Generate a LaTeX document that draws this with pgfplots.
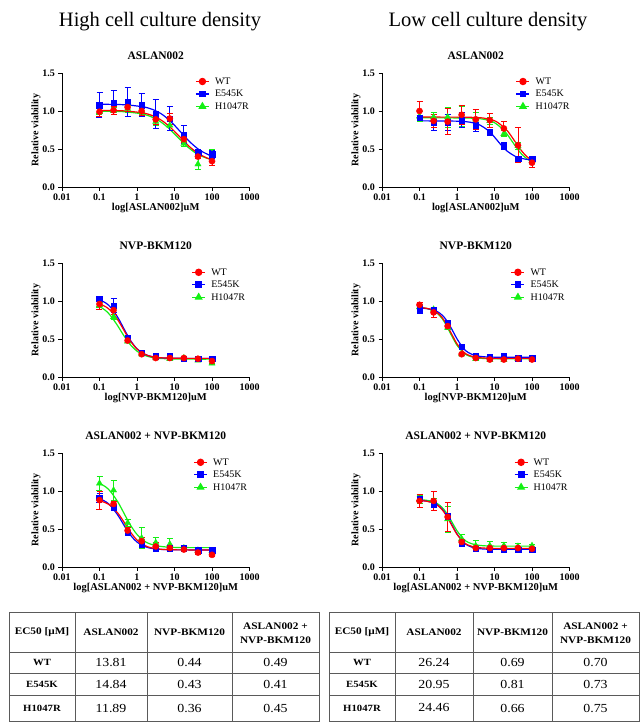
\documentclass[border=0pt]{standalone}
\usepackage{fontspec}
\setmainfont{Liberation Serif}
\newfontfamily\tabfont{Liberation Serif}[FakeStretch=1.13]
\usepackage{pgfplots}
\pgfplotsset{compat=1.18}
\definecolor{cR}{RGB}{255,0,0}
\definecolor{cB}{RGB}{0,0,255}
\definecolor{cG}{RGB}{20,240,20}
\pgfplotsset{
  cv/.style={line width=1.2pt, smooth, forget plot, no marks},
  pts/.style={only marks, forget plot, error bars/y dir=both, error bars/y explicit,
    error bars/error bar style={line width=0.8pt, solid},
    error bars/error mark options={rotate=90, mark size=3pt, line width=0.8pt}},
  mR/.style={cR, mark=*, mark size=3.1pt},
  mB/.style={cB, mark=square*, mark size=2.8pt},
  mG/.style={cG, mark=triangle*, mark size=3.6pt},
}
\newcommand\DR[1]{\begin{axis}[xmode=log, xmin=0.01, xmax=1000, ymin=0, ymax=1.5,
    scale only axis, width=187.5pt, height=114pt, anchor=south west,
    axis lines*=left,
    xtick={0.01,0.1,1,10,100,1000}, xticklabels={0.01,0.1,1,10,100,1000},
    ytick={0,0.5,1,1.5}, yticklabels={0.0,0.5,1.0,1.5},
    xminorticks=false, yminorticks=false, tick align=outside, major tick length=3.5pt,
    every tick/.style={black,line width=0.8pt}, axis line style={black,line width=0.8pt},
    tick label style={font=\fontsize{10}{12}\selectfont\bfseries},
    every axis title shift=0pt,
    title style={font=\fontsize{11.5}{13}\selectfont\bfseries, at={(axis description cs:0.5,1.15)}, anchor=center},
    xlabel style={font=\fontsize{10.5}{12}\selectfont\bfseries, at={(axis description cs:0.5,-0.18)}, anchor=center},
    ylabel style={font=\fontsize{10}{12}\selectfont\bfseries, at={(axis description cs:-0.139,0.5)}, anchor=center},
    ylabel={Relative viability},
    legend cell align=left,
    legend image code/.code={\draw[mark repeat=2,mark phase=2] plot coordinates {(0pt,0pt) (6.5pt,0pt) (13pt,0pt)}; \path (16pt,0pt);},
    legend style={draw=none, fill=none, anchor=north west, inner sep=0pt,
      font=\fontsize{10}{12}\selectfont, row sep=0pt,
      nodes={inner xsep=2.5pt, inner ysep=1pt, text height=8pt, text depth=2.5pt}},
    #1]}
\newcommand\leg{%
  \addlegendimage{mR, line width=1.2pt}\addlegendentry{WT}
  \addlegendimage{mB, line width=1.2pt}\addlegendentry{E545K}
  \addlegendimage{mG, line width=1.2pt}\addlegendentry{H1047R}}
\begin{document}
\begin{tikzpicture}
\useasboundingbox (0pt,0pt) rectangle (641pt,-722pt);
\node[font=\fontsize{20.5}{24}\selectfont, anchor=base] at (160pt,-27pt) {High cell culture density};
\node[font=\fontsize{20.5}{24}\selectfont, anchor=base] at (488pt,-27pt) {Low cell culture density};

% ---------- Plot 1: High, ASLAN002
\DR{at={(62pt,-187pt)}, title={ASLAN002}, xlabel={log[ASLAN002]uM}, legend style={at={(0.71,0.982)}}}
\leg
\addplot[cG, cv] coordinates {(0.1,0.998) (0.376,0.993) (1.189,0.967) (2.114,0.935) (3.760,0.876) (6.686,0.782) (11.89,0.66) (21.14,0.538) (37.60,0.444) (66.86,0.385) (100,0.36)};
\addplot[cB, cv] coordinates {(0.1,1.089) (0.469,1.082) (1.484,1.054) (2.639,1.019) (4.693,0.955) (8.345,0.852) (14.84,0.72) (26.39,0.588) (46.93,0.485) (83.45,0.421) (100,0.407)};
\addplot[cR, cv] coordinates {(0.1,1.009) (0.437,1.002) (1.381,0.976) (2.456,0.943) (4.367,0.882) (7.766,0.785) (13.81,0.66) (24.56,0.535) (43.67,0.438) (77.66,0.377) (100,0.36)};
\addplot[mG, pts] coordinates {(0.1,0.99)+-(0,0.04) (0.237,1.00)+-(0,0.05) (0.562,1.03)+-(0,0.05) (1.33,1.00)+-(0,0.04) (3.16,0.86)+-(0,0.05) (7.5,0.81)+-(0,0.06) (17.8,0.57)+-(0,0.03) (42.2,0.30)+-(0,0.07) (100,0.44)+-(0,0.06)};
\addplot[mB, pts] coordinates {(0.1,1.08)+-(0,0.16) (0.237,1.11)+-(0,0.16) (0.562,1.12)+-(0,0.19) (1.33,1.08)+-(0,0.15) (3.16,0.96)+-(0,0.19) (7.5,0.90)+-(0,0.16) (17.8,0.69)+-(0,0.12) (42.2,0.45)+-(0,0.04) (100,0.43)+-(0,0.05)};
\addplot[mR, pts] coordinates {(0.1,0.99)+-(0,0.06) (0.237,1.01)+-(0,0.05) (0.562,1.05)+-(0,0.06) (1.33,1.00)+-(0,0.06) (3.16,0.89)+-(0,0.06) (7.5,0.90)+-(0,0.07) (17.8,0.63)+-(0,0.04) (42.2,0.40)+-(0,0.03) (100,0.34)+-(0,0.05)};
\end{axis}

% ---------- Plot 2: Low, ASLAN002
\DR{at={(382pt,-187pt)}, title={ASLAN002}, xlabel={log[ASLAN002]uM}, legend style={at={(0.713,0.982)}}}
\leg
\addplot[cG, cv] coordinates {(0.1,0.91) (0.949,0.909) (3.0,0.904) (5.335,0.890) (9.487,0.853) (16.87,0.759) (22.5,0.683) (30,0.595) (40,0.507) (53.35,0.431) (75,0.367) (100,0.332)};
\addplot[cB, cv] coordinates {(0.1,0.87) (0.379,0.869) (1.2,0.865) (2.134,0.854) (3.795,0.823) (6.748,0.745) (9.0,0.683) (12,0.61) (16,0.537) (21.34,0.475) (37.95,0.397) (67.48,0.366) (100,0.357)};
\addplot[cR, cv] coordinates {(0.1,0.92) (1.107,0.919) (3.5,0.914) (6.224,0.900) (11.07,0.862) (19.68,0.766) (26.24,0.690) (35,0.60) (46.67,0.510) (62.24,0.434) (80,0.383) (100,0.350)};
\addplot[mG, pts] coordinates {(0.1,0.93)+-(0,0.07) (0.237,0.92)+-(0,0.06) (0.562,0.92)+-(0,0.13) (1.33,0.93)+-(0,0.13) (3.16,0.89)+-(0,0.09) (7.5,0.87)+-(0,0.04) (17.8,0.70)+-(0,0.04) (42.2,0.54)+-(0,0.05) (100,0.35)+-(0,0.04)};
\addplot[mB, pts] coordinates {(0.1,0.91)+-(0,0.03) (0.237,0.85)+-(0,0.11) (0.562,0.85)+-(0,0.10) (1.33,0.88)+-(0,0.10) (3.16,0.81)+-(0,0.08) (7.5,0.72)+-(0,0.02) (17.8,0.54)+-(0,0.05) (42.2,0.37)+-(0,0.03) (100,0.37)+-(0,0.03)};
\addplot[mR, pts] coordinates {(0.1,1.00)+-(0,0.12) (0.237,0.87)+-(0,0.08) (0.562,0.86)+-(0,0.17) (1.33,0.95)+-(0,0.13) (3.16,0.89)+-(0,0.13) (7.5,0.88)+-(0,0.09) (17.8,0.77)+-(0,0.09) (42.2,0.55)+-(0,0.23) (100,0.32)+-(0,0.06)};
\end{axis}

% ---------- Plot 3: High, NVP-BKM120
\DR{at={(62pt,-377pt)}, title={NVP-BKM120}, xlabel={log[NVP-BKM120]uM}, legend style={at={(0.69,0.975)}}}
\leg
\addplot[cG, cv] coordinates {(0.1,0.930) (0.15,0.869) (0.2,0.803) (0.3,0.680) (0.4,0.581) (0.5,0.507) (0.7,0.412) (1,0.340) (1.5,0.289) (2,0.269) (3,0.251) (5,0.242) (10,0.237) (30,0.235) (100,0.235)};
\addplot[cB, cv] coordinates {(0.1,1.018) (0.15,0.971) (0.2,0.915) (0.3,0.793) (0.4,0.682) (0.5,0.591) (0.7,0.468) (1,0.372) (1.5,0.307) (2,0.281) (3,0.261) (5,0.251) (10,0.247) (30,0.245) (100,0.245)};
\addplot[cR, cv] coordinates {(0.1,0.963) (0.15,0.921) (0.2,0.871) (0.3,0.760) (0.4,0.658) (0.5,0.574) (0.7,0.459) (1,0.367) (1.5,0.305) (2,0.280) (3,0.261) (5,0.251) (10,0.247) (30,0.245) (100,0.245)};
\addplot[mG, pts] coordinates {(0.1,0.95)+-(0,0.03) (0.237,0.79)+-(0,0.03) (0.562,0.47)+-(0,0.02) (1.33,0.30)+-(0,0.02) (3.16,0.25)+-(0,0.02) (7.5,0.24)+-(0,0.02) (17.8,0.25)+-(0,0.02) (42.2,0.22)+-(0,0.02) (100,0.18)+-(0,0.02)};
\addplot[mB, pts] coordinates {(0.1,1.03)+-(0,0.02) (0.237,0.94)+-(0,0.09) (0.562,0.51)+-(0,0.03) (1.33,0.32)+-(0,0.02) (3.16,0.27)+-(0,0.02) (7.5,0.27)+-(0,0.02) (17.8,0.24)+-(0,0.02) (42.2,0.24)+-(0,0.02) (100,0.24)+-(0,0.02)};
\addplot[mR, pts] coordinates {(0.1,0.96)+-(0,0.07) (0.237,0.88)+-(0,0.05) (0.562,0.48)+-(0,0.03) (1.33,0.30)+-(0,0.02) (3.16,0.25)+-(0,0.02) (7.5,0.25)+-(0,0.02) (17.8,0.25)+-(0,0.02) (42.2,0.24)+-(0,0.02) (100,0.21)+-(0,0.03)};
\end{axis}

% ---------- Plot 4: Low, NVP-BKM120
\DR{at={(382pt,-377pt)}, title={NVP-BKM120}, xlabel={log[NVP-BKM120]uM}, legend style={at={(0.686,0.975)}}}
\leg
\addplot[cG, cv] coordinates {(0.1,0.914) (0.15,0.904) (0.2,0.887) (0.3,0.837) (0.4,0.769) (0.5,0.694) (0.7,0.555) (1,0.418) (1.5,0.318) (2,0.280) (3,0.255) (5,0.244) (10,0.24) (30,0.24) (100,0.24)};
\addplot[cB, cv] coordinates {(0.1,0.907) (0.15,0.901) (0.2,0.891) (0.3,0.860) (0.4,0.815) (0.5,0.760) (0.7,0.644) (1,0.502) (1.5,0.375) (2,0.322) (3,0.284) (5,0.267) (10,0.261) (30,0.26) (100,0.26)};
\addplot[cR, cv] coordinates {(0.1,0.915) (0.15,0.905) (0.2,0.891) (0.3,0.845) (0.4,0.783) (0.5,0.711) (0.7,0.577) (1,0.436) (1.5,0.329) (2,0.289) (3,0.262) (5,0.250) (10,0.245) (30,0.245) (100,0.245)};
\addplot[mG, pts] coordinates {(0.1,0.92)+-(0,0.03) (0.237,0.89)+-(0,0.02) (0.562,0.65)+-(0,0.03) (1.33,0.30)+-(0,0.02) (3.16,0.24)+-(0,0.02) (7.5,0.23)+-(0,0.02) (17.8,0.23)+-(0,0.02) (42.2,0.24)+-(0,0.02) (100,0.24)+-(0,0.02)};
\addplot[mB, pts] coordinates {(0.1,0.89)+-(0,0.05) (0.237,0.88)+-(0,0.03) (0.562,0.71)+-(0,0.02) (1.33,0.40)+-(0,0.02) (3.16,0.27)+-(0,0.02) (7.5,0.26)+-(0,0.02) (17.8,0.27)+-(0,0.02) (42.2,0.25)+-(0,0.02) (100,0.25)+-(0,0.02)};
\addplot[mR, pts] coordinates {(0.1,0.95)+-(0,0.03) (0.237,0.85)+-(0,0.07) (0.562,0.67)+-(0,0.03) (1.33,0.30)+-(0,0.02) (3.16,0.25)+-(0,0.02) (7.5,0.23)+-(0,0.02) (17.8,0.23)+-(0,0.02) (42.2,0.24)+-(0,0.02) (100,0.23)+-(0,0.02)};
\end{axis}

% ---------- Plot 5: High, combination
\DR{at={(62pt,-567pt)}, title={ASLAN002 + NVP-BKM120}, xlabel={log[ASLAN002 + NVP-BKM120]uM}, legend style={at={(0.70,0.975)}}}
\leg
\addplot[cG, cv] coordinates {(0.1,1.103) (0.15,1.050) (0.2,0.989) (0.3,0.866) (0.4,0.755) (0.5,0.664) (0.7,0.536) (1,0.429) (1.5,0.348) (2,0.313) (3,0.284) (5,0.267) (10,0.258) (30,0.255) (100,0.255)};
\addplot[cB, cv] coordinates {(0.1,0.900) (0.15,0.856) (0.2,0.803) (0.3,0.691) (0.4,0.592) (0.5,0.512) (0.7,0.408) (1,0.328) (1.5,0.275) (2,0.254) (3,0.238) (5,0.230) (10,0.226) (30,0.225) (100,0.225)};
\addplot[cR, cv] coordinates {(0.1,0.873) (0.15,0.842) (0.2,0.804) (0.3,0.716) (0.4,0.630) (0.5,0.556) (0.7,0.447) (1,0.355) (1.5,0.290) (2,0.263) (3,0.243) (5,0.231) (10,0.226) (30,0.225) (100,0.225)};
\addplot[mG, pts] coordinates {(0.1,1.10)+-(0,0.09) (0.237,1.01)+-(0,0.13) (0.562,0.58)+-(0,0.04) (1.33,0.38)+-(0,0.14) (3.16,0.32)+-(0,0.07) (7.5,0.30)+-(0,0.07) (17.8,0.25)+-(0,0.03) (42.2,0.22)+-(0,0.02) (100,0.21)+-(0,0.02)};
\addplot[mB, pts] coordinates {(0.1,0.91)+-(0,0.06) (0.237,0.79)+-(0,0.02) (0.562,0.45)+-(0,0.03) (1.33,0.30)+-(0,0.02) (3.16,0.25)+-(0,0.02) (7.5,0.25)+-(0,0.02) (17.8,0.25)+-(0,0.03) (42.2,0.22)+-(0,0.02) (100,0.22)+-(0,0.02)};
\addplot[mR, pts] coordinates {(0.1,0.88)+-(0,0.12) (0.237,0.83)+-(0,0.03) (0.562,0.48)+-(0,0.04) (1.33,0.34)+-(0,0.05) (3.16,0.27)+-(0,0.06) (7.5,0.25)+-(0,0.03) (17.8,0.23)+-(0,0.03) (42.2,0.19)+-(0,0.02) (100,0.16)+-(0,0.02)};
\end{axis}

% ---------- Plot 6: Low, combination
\DR{at={(382pt,-567pt)}, title={ASLAN002 + NVP-BKM120}, xlabel={log[ASLAN002 + NVP-BKM120]uM}, legend style={at={(0.703,0.975)}}}
\leg
\addplot[cG, cv] coordinates {(0.1,0.886) (0.15,0.879) (0.2,0.868) (0.3,0.833) (0.4,0.784) (0.5,0.726) (0.7,0.609) (1,0.477) (1.5,0.367) (2,0.324) (3,0.294) (5,0.280) (10,0.275) (30,0.275) (100,0.275)};
\addplot[cB, cv] coordinates {(0.1,0.876) (0.15,0.868) (0.2,0.855) (0.3,0.817) (0.4,0.762) (0.5,0.699) (0.7,0.573) (1,0.435) (1.5,0.324) (2,0.280) (3,0.250) (5,0.237) (10,0.232) (30,0.232) (100,0.232)};
\addplot[cR, cv] coordinates {(0.1,0.875) (0.15,0.867) (0.2,0.853) (0.3,0.812) (0.4,0.754) (0.5,0.689) (0.7,0.5625) (1,0.430) (1.5,0.327) (2,0.288) (3,0.261) (5,0.250) (10,0.245) (30,0.245) (100,0.245)};
\addplot[mG, pts] coordinates {(0.1,0.89)+-(0,0.05) (0.237,0.87)+-(0,0.03) (0.562,0.63)+-(0,0.17) (1.33,0.37)+-(0,0.06) (3.16,0.28)+-(0,0.07) (7.5,0.28)+-(0,0.06) (17.8,0.28)+-(0,0.05) (42.2,0.27)+-(0,0.04) (100,0.28)+-(0,0.02)};
\addplot[mB, pts] coordinates {(0.1,0.90)+-(0,0.03) (0.237,0.82)+-(0,0.04) (0.562,0.67)+-(0,0.03) (1.33,0.31)+-(0,0.02) (3.16,0.24)+-(0,0.02) (7.5,0.23)+-(0,0.02) (17.8,0.23)+-(0,0.02) (42.2,0.23)+-(0,0.02) (100,0.23)+-(0,0.02)};
\addplot[mR, pts] coordinates {(0.1,0.87)+-(0,0.09) (0.237,0.87)+-(0,0.12) (0.562,0.66)+-(0,0.19) (1.33,0.33)+-(0,0.03) (3.16,0.25)+-(0,0.02) (7.5,0.25)+-(0,0.02) (17.8,0.25)+-(0,0.02) (42.2,0.25)+-(0,0.02) (100,0.24)+-(0,0.02)};
\end{axis}

% ---------- Tables
\begin{scope}[line width=0.8pt, draw={rgb,255:red,90;green,90;blue,90}]
  \draw (9pt,-612pt) rectangle (319pt,-721pt);
  \foreach \yy in {652,673,695} \draw (9pt,-\yy pt) -- (319pt,-\yy pt);
  \foreach \xx in {75,147,232} \draw (\xx pt,-612pt) -- (\xx pt,-721pt);
  \draw (329pt,-612pt) rectangle (639pt,-721pt);
  \foreach \yy in {652,673,695} \draw (329pt,-\yy pt) -- (639pt,-\yy pt);
  \foreach \xx in {395,473,552} \draw (\xx pt,-612pt) -- (\xx pt,-721pt);
\end{scope}
\tikzset{th/.style={font=\tabfont\fontsize{10}{12}\selectfont\bfseries, align=center, inner sep=0pt},
         tr/.style={font=\tabfont\fontsize{9.5}{11}\selectfont\bfseries, inner sep=0pt},
         tn/.style={font=\tabfont\fontsize{12.3}{14}\selectfont, inner sep=0pt}}
\node[th] at (42pt,-632pt) {EC50 [μM]};
\node[th] at (111pt,-632pt) {ASLAN002};
\node[th] at (189.5pt,-632pt) {NVP-BKM120};
\node[th, font=\tabfont\fontsize{10}{14}\selectfont\bfseries] at (275.5pt,-633pt) {ASLAN002 +\\NVP-BKM120};
\node[tr] at (42pt,-662.5pt) {WT};
\node[tr] at (42pt,-684pt) {E545K};
\node[tr] at (42pt,-708pt) {H1047R};
\node[tn] at (111pt,-662.5pt) {13.81};
\node[tn] at (111pt,-684pt) {14.84};
\node[tn] at (111pt,-708pt) {11.89};
\node[tn] at (189.5pt,-662.5pt) {0.44};
\node[tn] at (189.5pt,-684pt) {0.43};
\node[tn] at (189.5pt,-708pt) {0.36};
\node[tn] at (275.5pt,-662.5pt) {0.49};
\node[tn] at (275.5pt,-684pt) {0.41};
\node[tn] at (275.5pt,-708pt) {0.45};
\node[th] at (362pt,-632pt) {EC50 [μM]};
\node[th] at (434pt,-632pt) {ASLAN002};
\node[th] at (512.5pt,-632pt) {NVP-BKM120};
\node[th, font=\tabfont\fontsize{10}{14}\selectfont\bfseries] at (595.5pt,-633pt) {ASLAN002 +\\NVP-BKM120};
\node[tr] at (362pt,-662.5pt) {WT};
\node[tr] at (362pt,-684pt) {E545K};
\node[tr] at (362pt,-708pt) {H1047R};
\node[tn] at (434pt,-662.5pt) {26.24};
\node[tn] at (434pt,-684pt) {20.95};
\node[tn] at (434pt,-708pt) {24.46};
\node[tn] at (512.5pt,-662.5pt) {0.69};
\node[tn] at (512.5pt,-684pt) {0.81};
\node[tn] at (512.5pt,-708pt) {0.66};
\node[tn] at (595.5pt,-662.5pt) {0.70};
\node[tn] at (595.5pt,-684pt) {0.73};
\node[tn] at (595.5pt,-708pt) {0.75};
\end{tikzpicture}
\end{document}
